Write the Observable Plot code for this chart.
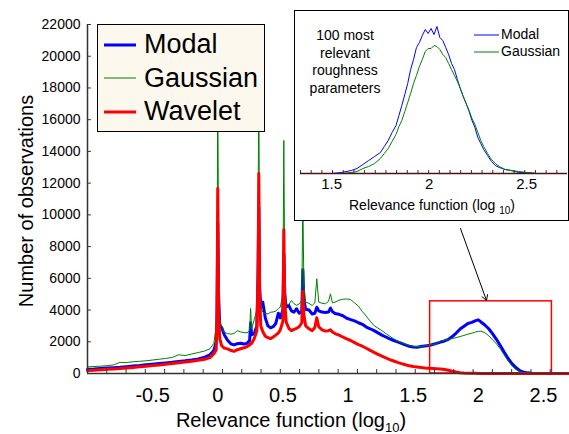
<!DOCTYPE html>
<html><head><meta charset="utf-8">
<script src="https://cdn.jsdelivr.net/npm/d3@7"></script>
<script src="https://cdn.jsdelivr.net/npm/@observablehq/plot@0.6"></script>
<style>
body{margin:0;background:#fff;font-family:"Liberation Sans",Arial,sans-serif;color:#000;}
#wrap{position:relative;width:569px;height:434px;overflow:hidden;}
#wrap svg{display:block;}
.abs{position:absolute;white-space:nowrap;}
</style></head><body><div id="wrap"></div>
<script>
// ---------- main chart data ----------
const relevance = [
-1.0,-0.95,-0.9,-0.85,-0.8,-0.75,-0.7,-0.65,-0.6,-0.55,
-0.5,-0.45,-0.4,-0.35,-0.3,-0.25,-0.2,-0.15,-0.1,-0.06,
-0.03,-0.012,-0.006,0,0.006,0.015,0.03,0.05,0.075,0.1,
0.125,0.15,0.175,0.2,0.225,0.245,0.252,0.26,0.28,0.3,
0.309,0.315,0.321,0.33,0.345,0.365,0.385,0.405,0.425,0.445,
0.465,0.48,0.5,0.507,0.514,0.525,0.545,0.565,0.585,0.605,
0.625,0.645,0.653,0.661,0.675,0.7,0.725,0.745,0.76,0.775,
0.8,0.825,0.85,0.865,0.88,0.9,0.93,0.96,0.99,1.02,
1.05,1.08,1.11,1.14,1.17,1.2,1.23,1.26,1.29,1.32,
1.35,1.38,1.41,1.44,1.47,1.5,1.53,1.56,1.59,1.62,
1.65,1.68,1.71,1.74,1.77,1.8,1.83,1.86,1.89,1.92,
1.95,1.98,2.0,2.02,2.05,2.08,2.11,2.14,2.17,2.2,
2.23,2.26,2.29,2.32,2.35,2.38,2.41,2.45,2.5,2.6,
2.7];
const modal = [
270,290,320,345,370,395,430,470,505,550,
590,630,670,710,760,800,850,920,1030,1180,
1450,2000,3500,9500,5000,3000,2900,2450,2100,1870,
1800,1880,1910,1860,1900,2100,3200,2450,2500,3000,
6000,10500,5500,4200,4500,3500,3000,2880,2950,3150,
3800,3500,4000,7500,5000,4200,4290,3950,3870,4080,
3800,3900,6540,4600,4050,4000,3750,3800,4180,3950,
3870,3850,3870,4120,3900,3780,3730,3640,3480,3400,
3320,3200,3100,2930,2820,2700,2560,2420,2300,2180,
2080,1990,1900,1800,1720,1670,1660,1700,1730,1760,
1830,1900,1975,2050,2150,2330,2550,2800,2980,3150,
3220,3330,3385,3250,3060,2820,2500,2140,1750,1320,
930,610,360,170,85,40,20,5,0,0,
0];
const gaussian = [
420,440,460,490,540,700,690,740,770,800,
850,900,950,1010,1180,1130,1230,1320,1420,1560,
1900,3000,6000,18000,8000,3300,3000,2600,2520,2480,
2520,2700,2620,2580,2560,2700,4100,2800,3400,4000,
9000,18500,7000,4200,3860,3780,3760,3860,3880,3930,
4100,4180,5000,14690,6000,4350,4350,4600,4400,4300,
4390,4600,11000,5500,4500,4420,4290,4450,5970,4500,
4430,4390,4550,5020,4450,4500,4620,4680,4700,4660,
4450,4250,3900,3620,3300,3020,2860,2700,2520,2350,
2190,2050,1960,1860,1760,1710,1700,1700,1740,1770,
1820,1880,2050,2100,2160,2200,2260,2330,2400,2480,
2540,2620,2650,2670,2570,2380,2120,1860,1540,1150,
780,470,250,110,50,25,10,5,0,0,
0];
const wavelet = [
190,210,240,265,290,310,345,380,420,460,
510,540,590,630,680,720,770,830,900,1000,
1250,1500,3500,11660,4000,2200,1750,1600,1550,1450,
1400,1500,1560,1620,1700,1800,1950,1900,2200,2700,
6000,12600,5000,3000,2650,2350,2250,2200,2300,2420,
2550,2750,3300,9060,4500,3250,2850,2700,2780,2850,
2950,3200,5170,3700,3000,2820,2700,2900,3510,2950,
2750,2680,2700,2750,2620,2520,2420,2300,2180,2080,
1950,1820,1720,1590,1460,1330,1210,1090,980,880,
790,700,620,550,490,440,410,380,350,330,
310,295,280,250,200,140,90,50,30,20,
12,8,5,4,3,2,0,0,0,0,
0,0,0,0,0,0,0,0,0,0,
0];

const seriesNames = ["Modal","Gaussian","Wavelet"];
const seriesColors = ["#0000ff","#008000","#ff0000"];
const seriesWidths = [3,1,3];

const xTickLabels = [-0.5,0,0.5,1,1.5,2,2.5];
const yTicks = [0,2000,4000,6000,8000,10000,12000,14000,16000,18000,20000,22000];
const xDomain = [-1, 2.7];
const yDomain = [0, 22000];

const zoomBox = [{x1:1.63, x2:2.565, y1:0, y2:4550}];
const arrowLine = [{x1:1.863, y1:9140, x2:2.063, y2:4600}];

// ---------- inset data ----------
const insetRelevance = [1.50,1.55,1.60,1.63,1.66,1.69,1.72,1.75,1.77,1.79,
1.81,1.83,1.845,1.86,1.875,1.89,1.905,1.92,1.935,1.95,
1.965,1.98,1.995,2.01,2.025,2.04,2.055,2.07,2.085,2.1,
2.115,2.13,2.145,2.16,2.175,2.19,2.205,2.22,2.235,2.25,
2.265,2.28,2.3,2.32,2.34,2.36,2.39,2.42,2.46,2.5,
2.55,2.6];
const insetModal = [0,1,3,5,9,13,17,21,27,33,
41,48,58,68,79,90,104,114,126,131,
138,144,140,145,139,147,136,133,126,119,
110,104,94,85,77,70,62,53,46,36,
30,24,18,12,8,6,4,3,1,1,
0,0];
const insetGaussian = [0,0,1,2,5,7,10,15,20,25,
32,39,47,53,62,71,80,90,98,107,
114,122,125,125,128,127,124,119,116,110,
104,98,92,85,77,70,63,55,49,41,
33,27,20,14,10,7,4,3,2,1,
0,0];
const insetTickLabels = [1.5,2,2.5];
const insetDomain = [1.34, 2.71];
const insetNote = ["100 most","relevant","roughness","parameters"];

// ---------- build ----------
const rows = relevance.map((x,i)=>({x, modal:modal[i], gaussian:gaussian[i], wavelet:wavelet[i]}));
const insetRows = insetRelevance.map((x,i)=>({x, modal:insetModal[i], gaussian:insetGaussian[i]}));
const minorX = d3.range(26).map(i => xDomain[0] + i*(xDomain[1]-xDomain[0])/25);
const insetMinorX = d3.range(26).map(i => insetDomain[0] + i*(insetDomain[1]-insetDomain[0])/25);
const font = "Liberation Sans, Arial, sans-serif";
const axisColor = "#333";

const main = Plot.plot({
  width:569, height:434,
  marginLeft:87, marginRight:0, marginTop:24, marginBottom:61,
  x:{domain:xDomain},
  y:{domain:yDomain},
  style:{fontFamily:font, background:"transparent", color:"#000"},
  marks:[
    Plot.line(rows,{x:"x",y:"modal",stroke:seriesColors[0],strokeWidth:seriesWidths[0]}),
    Plot.line(rows,{x:"x",y:"gaussian",stroke:seriesColors[1],strokeWidth:seriesWidths[1]}),
    Plot.line(rows,{x:"x",y:"wavelet",stroke:seriesColors[2],strokeWidth:seriesWidths[2]}),
    Plot.rect(zoomBox,{x1:"x1",x2:"x2",y1:"y1",y2:"y2",fill:"none",stroke:"#ff0000",strokeWidth:1.5}),
    Plot.arrow(arrowLine,{x1:"x1",y1:"y1",x2:"x2",y2:"y2",stroke:"#000",strokeWidth:1,headLength:9,bend:0}),
    Plot.ruleX(minorX,{y1:0,y2:250,stroke:axisColor}),
    Plot.ruleY(yTicks,{x1:xDomain[0],x2:xDomain[0]+0.03,stroke:axisColor}),
    Plot.ruleY([0],{stroke:axisColor,strokeWidth:1.5}),
    Plot.ruleX([xDomain[0]],{stroke:axisColor,strokeWidth:1.5}),
    Plot.axisX({ticks:xTickLabels,tickSize:0,tickPadding:14,fontSize:20,label:null,tickFormat:d=>String(d)}),
    Plot.axisY({ticks:yTicks,tickSize:0,tickPadding:7,fontSize:14,label:null,tickFormat:d=>String(d)})
  ]
});

const wrap = document.getElementById("wrap");
wrap.appendChild(main);

// axis titles
const xt = document.createElement("div");
xt.className="abs";
xt.style.cssText="left:291px;top:409px;transform:translateX(-50%);font-size:20px;line-height:22px;";
xt.innerHTML='Relevance function (log<span style="font-size:13px;position:relative;top:5px;">10</span>)';
wrap.appendChild(xt);

const yt = document.createElement("div");
yt.className="abs";
yt.style.cssText="left:26px;top:201px;transform:translate(-50%,-50%) rotate(-90deg);font-size:20px;line-height:22px;";
yt.textContent="Number of observations";
wrap.appendChild(yt);

// legend
const leg = document.createElement("div");
leg.className="abs";
leg.style.cssText="left:97px;top:24px;width:168px;height:108px;box-sizing:border-box;border:1.5px solid #000;background:#fdf8ee;";
seriesNames.forEach((name,i)=>{
  const r = document.createElement("div");
  r.className="abs";
  r.style.cssText=`left:6px;top:${3+i*33.5}px;height:33px;display:flex;align-items:center;`;
  r.innerHTML=`<svg width="34" height="10" style="margin-right:6px"><line x1="0" x2="32" y1="5" y2="5" stroke="${seriesColors[i]}" stroke-width="${seriesWidths[i]}"/></svg><span style="font-size:27px;line-height:33px;">${name}</span>`;
  leg.appendChild(r);
});
wrap.appendChild(leg);

// inset
const ins = document.createElement("div");
ins.className="abs";
ins.style.cssText="left:294px;top:10px;width:275px;height:211px;box-sizing:border-box;border:1.5px solid #000;background:#fff;overflow:hidden;";
wrap.appendChild(ins);

const inset = Plot.plot({
  width:272, height:208,
  marginLeft:5, marginRight:0, marginTop:12, marginBottom:46,
  x:{domain:insetDomain},
  y:{domain:[0,150], axis:null},
  style:{fontFamily:font, background:"transparent", color:"#000"},
  marks:[
    Plot.line(insetRows,{x:"x",y:"modal",stroke:seriesColors[0],strokeWidth:1}),
    Plot.line(insetRows,{x:"x",y:"gaussian",stroke:seriesColors[1],strokeWidth:1}),
    Plot.ruleX(insetMinorX,{y1:0,y2:3,stroke:axisColor}),
    Plot.ruleY([0],{stroke:"#4a1414",strokeWidth:1.3}),
    Plot.axisX({ticks:insetTickLabels,tickSize:0,tickPadding:5,fontSize:15,label:null,tickFormat:d=>String(d)})
  ]
});
inset.style.position="absolute";
inset.style.left="0px";
inset.style.top="0px";
ins.appendChild(inset);

const note = document.createElement("div");
note.className="abs";
note.style.cssText="left:50px;top:16px;transform:translateX(-50%);font-size:14px;line-height:17.5px;text-align:center;";
note.innerHTML=insetNote.join("<br>");
ins.appendChild(note);

const ileg = document.createElement("div");
ileg.className="abs";
ileg.style.cssText="left:179px;top:15px;";
["Modal","Gaussian"].forEach((name,i)=>{
  const r=document.createElement("div");
  r.style.cssText="display:flex;align-items:center;height:17px;";
  r.innerHTML=`<svg width="25" height="6" style="margin-right:2px"><line x1="0" x2="25" y1="3" y2="3" stroke="${seriesColors[i]}" stroke-width="1"/></svg><span style="font-size:14px;line-height:17px;">${name}</span>`;
  ileg.appendChild(r);
});
ins.appendChild(ileg);

const it = document.createElement("div");
it.className="abs";
it.style.cssText="left:137px;top:186px;transform:translateX(-50%);font-size:14px;line-height:17px;";
it.innerHTML='Relevance function (log <span style="font-size:10px;position:relative;top:4px;">10</span>)';
ins.appendChild(it);
</script></body></html>
